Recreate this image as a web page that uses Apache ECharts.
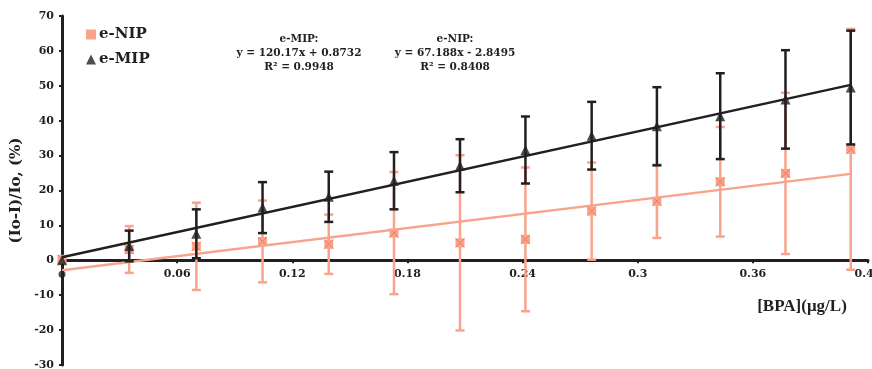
<!DOCTYPE html>
<html>
<head>
<meta charset="utf-8">
<script src="https://cdn.jsdelivr.net/npm/echarts@6/dist/echarts.min.js"></script>
<style>html,body{margin:0;padding:0;background:#fff;}#c{width:872px;height:369px;}</style>
</head>
<body>
<div id="c"></div>
<script>
var concentrations = [0, 0.035, 0.070, 0.1045, 0.139, 0.173, 0.2074, 0.2415, 0.276, 0.31, 0.343, 0.377, 0.411];
var mipValues = [0, 4.1, 7.6, 15.1, 18.2, 22.8, 27.1, 31.6, 35.7, 38.4, 41.3, 46.1, 49.5];
var mipErrors = [0, 4.4, 7.0, 7.3, 7.2, 8.2, 7.6, 9.6, 9.7, 11.2, 12.3, 14.1, 16.3];
var nipValues = [0.3, 3.1, 4.0, 5.4, 4.6, 7.8, 5.0, 6.0, 14.1, 16.9, 22.5, 24.9, 31.8];
var nipErrors = [0, 6.7, 12.5, 11.7, 8.5, 17.5, 25.1, 20.6, 13.9, 10.5, 15.7, 23.1, 34.5];
var mipFit = {slope: 120.17, intercept: 0.8732, r2: '0.9948'};
var nipFit = {slope: 67.188, intercept: -2.8495, r2: '0.8408'};
var xTicks = {min: 0, max: 0.42, interval: 0.06};
var yTicks = {min: -30, max: 70, interval: 10};

var FONT = 'DejaVu Serif';
var DARK = '#231f20';
var SALMON = '#f8a48c';
var SALMON_DARK = '#ef7b63';

var W = 872, H = 369;
var GRID = {left: 62, right: 4, top: 16, bottom: 4};
var gridH = H - GRID.top - GRID.bottom;
var xAxisOffset = -gridH * (0 - yTicks.min) / (yTicks.max - yTicks.min);

function pts(xs, ys) { return xs.map(function (x, i) { return [x, ys[i]]; }); }
function errData(xs, ys, es) { return xs.map(function (x, i) { return [x, ys[i] - es[i], ys[i] + es[i]]; }); }
function fitLine(fit) {
  var x0 = concentrations[0], x1 = concentrations[concentrations.length - 1];
  return [[x0, fit.slope * x0 + fit.intercept], [x1, fit.slope * x1 + fit.intercept]];
}
function errRender(color, w) {
  return function (params, api) {
    var x = api.value(0), lo = api.value(1), hi = api.value(2);
    if (hi === lo) return null;
    var a = api.coord([x, lo]), b = api.coord([x, hi]);
    var hw = 4.5;
    var st = {stroke: color, lineWidth: w};
    return {type: 'group', children: [
      {type: 'line', shape: {x1: a[0], y1: a[1], x2: b[0], y2: b[1]}, style: st},
      {type: 'line', shape: {x1: a[0] - hw, y1: a[1], x2: a[0] + hw, y2: a[1]}, style: st},
      {type: 'line', shape: {x1: b[0] - hw, y1: b[1], x2: b[0] + hw, y2: b[1]}, style: st}
    ]};
  };
}

var chart = echarts.init(document.getElementById('c'), null, {renderer: 'canvas'});
chart.setOption({
  animation: false,
  backgroundColor: '#fff',
  grid: {left: GRID.left, right: GRID.right, top: GRID.top, bottom: GRID.bottom, containLabel: false, outerBoundsMode: 'none'},
  legend: {
    orient: 'vertical', left: 81, top: 22, itemWidth: 10, itemHeight: 10, itemGap: 10,
    textStyle: {fontFamily: FONT, fontWeight: 'bold', fontSize: 15, color: DARK, padding: [0, 0, 0, -2]},
    data: [{name: 'e-NIP', icon: 'rect'}, {name: 'e-MIP', icon: 'triangle'}]
  },
  xAxis: {
    type: 'value', min: xTicks.min, max: xTicks.max, interval: xTicks.interval,
    position: 'bottom', offset: xAxisOffset,
    axisLine: {onZero: false, lineStyle: {color: DARK, width: 3}},
    axisTick: {show: true, length: 3, lineStyle: {color: DARK, width: 2}},
    splitLine: {show: false},
    axisLabel: {margin: 8, color: DARK, fontFamily: FONT, fontWeight: 'bold', fontSize: 11,
      formatter: function (v) { return v === 0 ? '' : String(+v.toFixed(2)); }}
  },
  yAxis: {
    type: 'value', min: yTicks.min, max: yTicks.max, interval: yTicks.interval,
    name: '(Io-I)/Io, (%)', nameLocation: 'middle', nameRotate: 90, nameGap: 33,
    nameTextStyle: {fontFamily: FONT, fontWeight: 'bold', fontSize: 15, color: DARK},
    axisLine: {show: true, onZero: false, lineStyle: {color: DARK, width: 3}},
    axisTick: {show: true, length: 3, lineStyle: {color: DARK, width: 2}},
    splitLine: {show: false},
    axisLabel: {margin: 8, color: DARK, fontFamily: FONT, fontWeight: 'bold', fontSize: 11}
  },
  graphic: [
    {type: 'text', x: 299, y: 32, style: {text: 'e-MIP:\ny = ' + mipFit.slope + 'x + ' + mipFit.intercept + '\nR² = ' + mipFit.r2,
      align: 'center', fill: DARK, font: 'bold 10.5px "DejaVu Serif"', lineHeight: 14}},
    {type: 'text', x: 455, y: 32, style: {text: 'e-NIP:\ny = ' + nipFit.slope + 'x - ' + Math.abs(nipFit.intercept) + '\nR² = ' + nipFit.r2,
      align: 'center', fill: DARK, font: 'bold 10.5px "DejaVu Serif"', lineHeight: 14}},
    {type: 'text', x: 802, y: 298, style: {text: '[BPA](μg/L)', align: 'center', fill: DARK, font: 'bold 17px "Liberation Serif"'}}
  ],
  series: [
    {type: 'custom', name: 'nipErr', renderItem: errRender(SALMON, 2.5), data: errData(concentrations, nipValues, nipErrors), z: 2, silent: true},
    {type: 'scatter', name: 'e-NIP', symbol: 'rect', symbolSize: 9, itemStyle: {color: SALMON, opacity: 1}, data: pts(concentrations, nipValues), z: 3},
    {type: 'custom', name: 'nipX', renderItem: function (params, api) {
        var p = api.coord([api.value(0), api.value(1)]); var h = 4.5;
        var st = {stroke: SALMON_DARK, lineWidth: 1};
        return {type: 'group', children: [
          {type: 'line', shape: {x1: p[0] - h, y1: p[1] - h, x2: p[0] + h, y2: p[1] + h}, style: st},
          {type: 'line', shape: {x1: p[0] + h, y1: p[1] - h, x2: p[0] - h, y2: p[1] + h}, style: st}
        ]};
      }, data: pts(concentrations, nipValues), z: 4, silent: true},
    {type: 'line', name: 'nipFit', data: fitLine(nipFit), symbol: 'none', lineStyle: {color: SALMON, width: 2.5}, z: 5, silent: true},
    {type: 'custom', name: 'mipErr', renderItem: errRender(DARK, 2.5), data: errData(concentrations, mipValues, mipErrors), z: 6, silent: true},
    {type: 'scatter', name: 'e-MIP', symbol: 'triangle', symbolSize: 10, itemStyle: {color: DARK}, data: pts(concentrations, mipValues), z: 7},
    {type: 'line', name: 'mipFit', data: fitLine(mipFit), symbol: 'none', lineStyle: {color: DARK, width: 2.5}, z: 8, silent: true},
    {type: 'scatter', name: 'origin', symbol: 'circle', symbolSize: 7, itemStyle: {color: DARK}, data: [[0, -4]], z: 9, silent: true}
  ]
});
</script>
</body>
</html>
